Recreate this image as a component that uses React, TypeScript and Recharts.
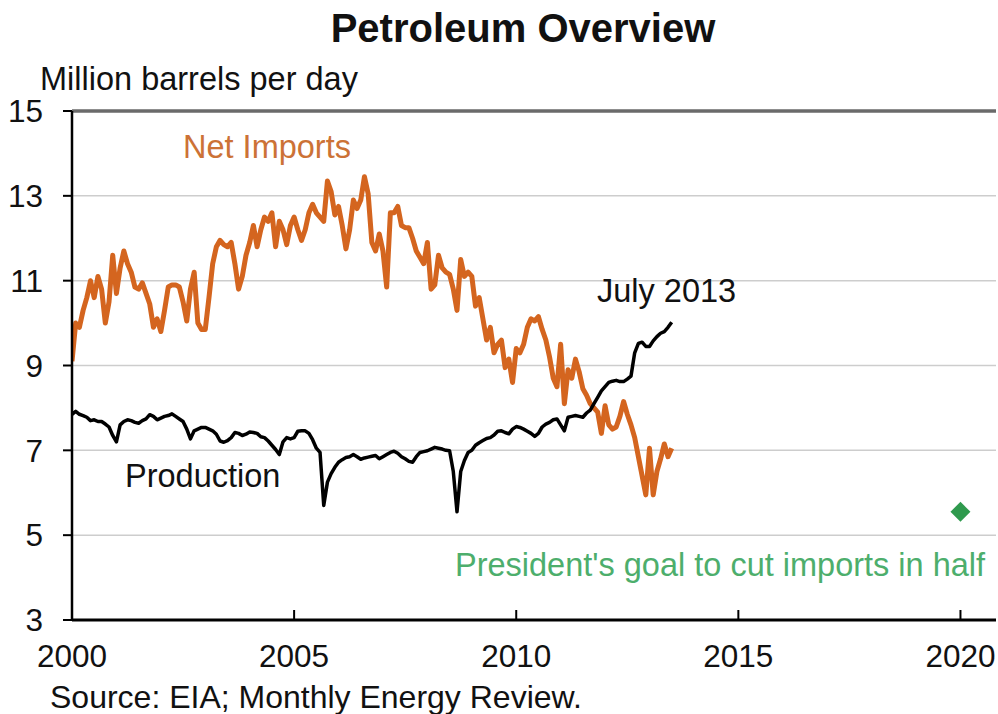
import { ComposedChart, Line, Scatter, XAxis, YAxis, CartesianGrid, ReferenceLine } from 'recharts';

// monthly, Jan 2000 .. Jul 2013 (million barrels per day)
const netImports = [
  9.1, 10.0, 9.9, 10.3, 10.6, 11.0, 10.6, 11.1, 10.8, 10.0, 10.5, 11.6,
  10.7, 11.3, 11.7, 11.4, 11.2, 10.85, 10.8, 10.95, 10.7, 10.45, 9.9, 10.1,
  9.8, 10.3, 10.85, 10.9, 10.9, 10.85, 10.5, 10.05, 10.8, 11.2, 10.0, 9.85,
  9.85, 10.6, 11.4, 11.8, 11.95, 11.85, 11.8, 11.9, 11.4, 10.8, 11.1, 11.6,
  11.9, 12.3, 11.8, 12.2, 12.5, 12.4, 12.6, 11.8, 12.4, 12.2, 11.85, 12.3,
  12.5, 12.2, 11.95, 12.2, 12.6, 12.8, 12.6, 12.5, 12.4, 13.35, 13.1, 12.55,
  12.75, 12.3, 11.75, 12.2, 12.9, 12.7, 12.9, 13.45, 13.05, 11.9, 11.7, 12.1,
  11.7, 10.85, 12.6, 12.6, 12.75, 12.3, 12.25, 12.25, 12.0, 11.7, 11.55, 11.4,
  11.9, 10.8, 10.9, 11.6, 11.3, 11.2, 11.15, 10.8, 10.3, 11.5, 11.1, 11.2,
  11.1, 10.4, 10.6, 10.1, 9.6, 9.9, 9.3, 9.5, 9.6, 8.95, 9.15, 8.6,
  9.4, 9.3, 9.5, 9.9, 10.1, 10.05, 10.15, 9.85, 9.6, 9.2, 8.7, 8.5,
  9.5, 8.1, 8.9, 8.7, 9.15, 8.85, 8.45, 8.3, 8.1, 8.0, 7.9, 7.4,
  8.05, 7.6, 7.5, 7.55, 7.8, 8.15, 7.85, 7.6, 7.3, 6.85, 6.4, 5.95,
  7.05, 5.95, 6.5, 6.8, 7.15, 6.85, 7.05,
];

const production = [
  7.85, 7.92, 7.85, 7.82, 7.78, 7.7, 7.72, 7.68, 7.68, 7.62, 7.55, 7.35,
  7.2, 7.6, 7.68, 7.72, 7.7, 7.66, 7.64, 7.7, 7.74, 7.84, 7.8, 7.72,
  7.76, 7.8, 7.82, 7.86, 7.8, 7.74, 7.68, 7.5, 7.27, 7.46, 7.5, 7.54,
  7.54, 7.5, 7.46, 7.38, 7.22, 7.19, 7.23, 7.3, 7.42, 7.4, 7.35, 7.38,
  7.43, 7.42, 7.4, 7.32, 7.3, 7.22, 7.12, 7.02, 6.9, 7.2, 7.3, 7.27,
  7.3, 7.45, 7.46, 7.46, 7.4, 7.25, 7.05, 6.95, 5.7, 6.25, 6.45, 6.6,
  6.72, 6.78, 6.83, 6.85, 6.9, 6.85, 6.79, 6.82, 6.84, 6.86, 6.88, 6.8,
  6.85, 6.9, 6.95, 6.98, 6.93, 6.85, 6.8, 6.74, 6.72, 6.85, 6.95, 6.97,
  6.99, 7.03, 7.07, 7.05, 7.03, 7.0, 6.99, 6.5, 5.55, 6.5, 6.76, 6.95,
  7.0, 7.12, 7.18, 7.23, 7.28, 7.3, 7.36, 7.45, 7.46, 7.42, 7.39, 7.5,
  7.56, 7.54, 7.5, 7.45, 7.4, 7.33, 7.4, 7.55, 7.62, 7.66, 7.72, 7.74,
  7.6, 7.46, 7.78, 7.8, 7.82, 7.8, 7.78, 7.88, 7.95, 8.1, 8.25, 8.4,
  8.5, 8.6, 8.63, 8.65, 8.62, 8.62, 8.68, 8.75, 9.3, 9.52, 9.55, 9.45,
  9.45, 9.58, 9.68, 9.76, 9.8, 9.9, 10.02,
];

const goal = [{ t: 2020, v: 5.55 }];

const yTicks = [3, 5, 7, 9, 11, 13, 15];
const xTicks = [2000, 2005, 2010, 2015, 2020];

const data = netImports.map((v, i) => ({
  t: 2000 + i / 12,
  imports: v,
  production: production[i],
}));

const FONT = '"Liberation Sans", Arial, sans-serif';
const ORANGE = '#d4651f';
const GREEN = '#2f9a4e';

const XTick = (props: any) => {
  const { x, y, payload } = props;
  return (
    <g>
      <line x1={x} x2={x} y1={y} y2={y - 10} stroke="#000" strokeWidth={2} />
      <text x={x} y={y + 47} textAnchor="middle" fontSize={31.5} fill="#111" fontFamily={FONT}>
        {payload.value}
      </text>
    </g>
  );
};

const Diamond = (props: any) => {
  const { cx, cy } = props;
  const r = 10;
  return <polygon points={`${cx},${cy - r} ${cx + r},${cy} ${cx},${cy + r} ${cx - r},${cy}`} fill={GREEN} />;
};

export default function App() {
  return (
    <div style={{ position: 'absolute', left: 0, top: 0, width: 998, height: 714, background: '#fff' }}>
      <ComposedChart
        width={998}
        height={714}
        data={data}
        margin={{ top: 111, right: 2, bottom: 34, left: 0 }}
      >
        <CartesianGrid horizontal vertical={false} stroke="#cdcdcd" strokeWidth={1.5} />
        <ReferenceLine y={15} stroke="#6a6a6a" strokeWidth={3.5} />
        <XAxis
          type="number"
          dataKey="t"
          domain={[2000, 2020.8]}
          ticks={xTicks}
          allowDataOverflow
          height={60}
          tickSize={0}
          tickMargin={0}
          tick={<XTick />}
          axisLine={{ stroke: '#000', strokeWidth: 3 }}
          tickLine={false}
        />
        <YAxis
          type="number"
          domain={[3, 15]}
          ticks={yTicks}
          width={72}
          tickSize={9}
          tickMargin={20}
          axisLine={{ stroke: '#000', strokeWidth: 2.5 }}
          tickLine={{ stroke: '#000', strokeWidth: 2 }}
          tick={{ fontSize: 31.5, fill: '#111', fontFamily: FONT }}
          interval={0}
        />
        <Line
          type="linear"
          dataKey="imports"
          stroke={ORANGE}
          strokeWidth={5}
          strokeLinejoin="round"
          dot={false}
          isAnimationActive={false}
        />
        <Line
          type="linear"
          dataKey="production"
          stroke="#000"
          strokeWidth={3.5}
          strokeLinejoin="round"
          dot={false}
          isAnimationActive={false}
        />
        <Scatter data={goal} dataKey="v" shape={<Diamond />} isAnimationActive={false} />
      </ComposedChart>
      <svg
        width={998}
        height={714}
        style={{ position: 'absolute', left: 0, top: 0, pointerEvents: 'none' }}
        fontFamily={FONT}
      >
        <text x={523} y={42} textAnchor="middle" fontSize={40} fontWeight="bold" fill="#111">
          Petroleum Overview
        </text>
        <text x={40} y={90} fontSize={32.5} fill="#111">Million barrels per day</text>
        <text x={183} y={158} fontSize={32.5} fill="#cc7236">Net Imports</text>
        <text x={597} y={302} fontSize={32.5} fill="#111">July 2013</text>
        <text x={125} y={487} fontSize={32.5} fill="#111">Production</text>
        <text x={455} y={576} fontSize={32.5} fill="#4dae6c">President's goal to cut imports in half</text>
        <text x={50} y={708} fontSize={32} fill="#111">Source: EIA; Monthly Energy Review.</text>
      </svg>
    </div>
  );
}
